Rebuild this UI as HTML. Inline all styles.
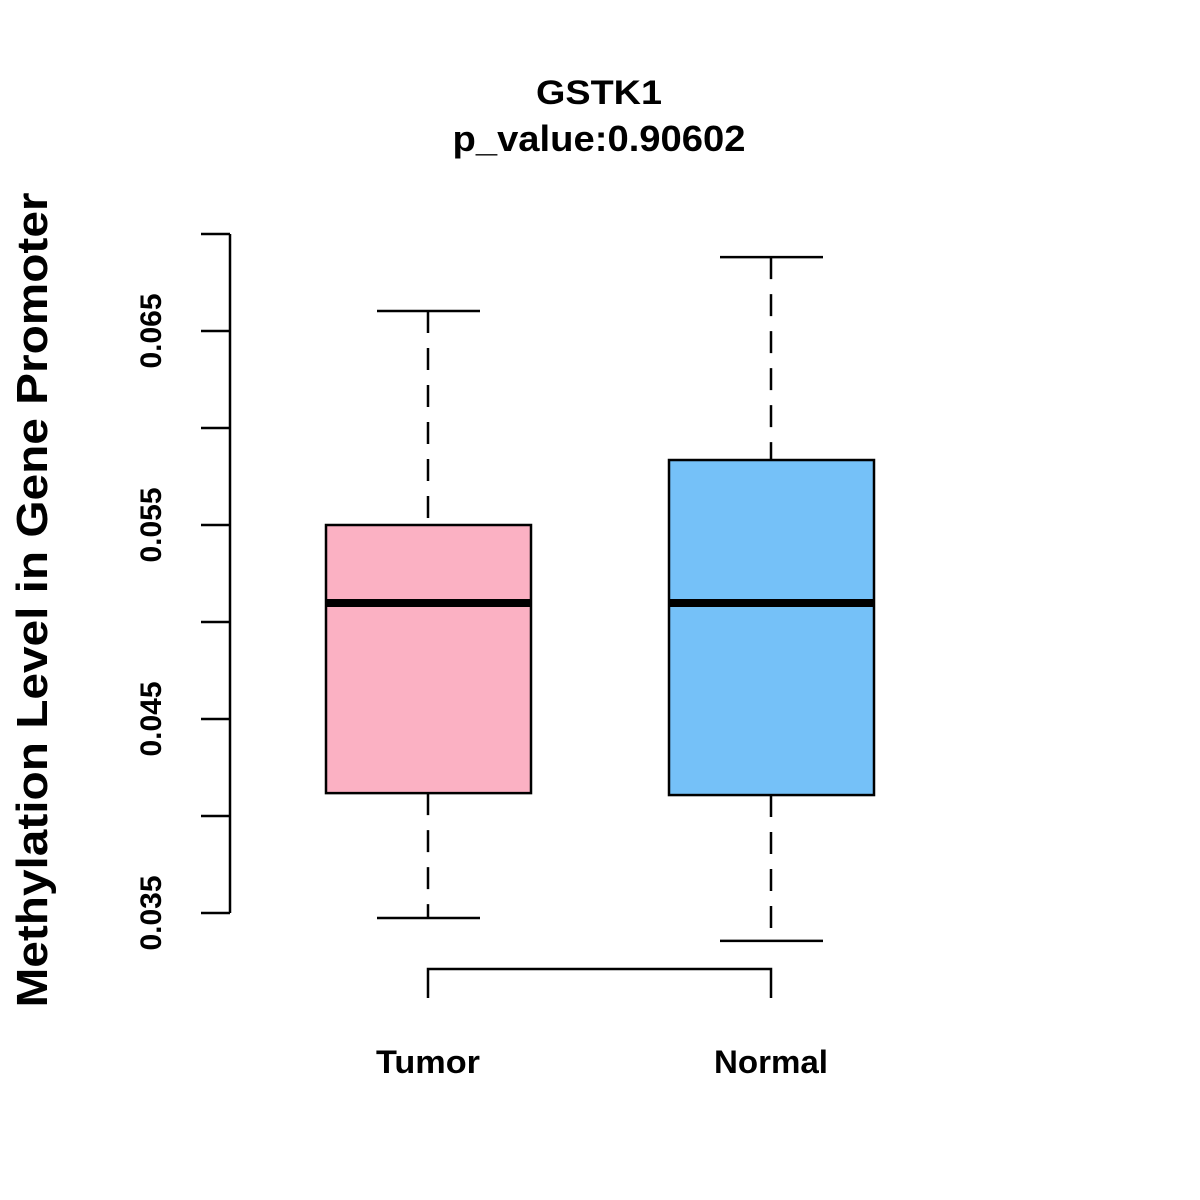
<!DOCTYPE html>
<html><head><meta charset="utf-8"><style>
html,body{margin:0;padding:0;background:#fff;}
svg{display:block;font-family:"Liberation Sans",Arial,sans-serif;}
</style></head><body>
<svg id="chart" width="1200" height="1200" viewBox="0 0 1200 1200">
<text x="599" y="104" text-anchor="middle" font-size="34" font-weight="bold" textLength="126" lengthAdjust="spacingAndGlyphs">GSTK1</text>
<text x="599" y="151" text-anchor="middle" font-size="36" font-weight="bold" textLength="293" lengthAdjust="spacingAndGlyphs">p_value:0.90602</text>
<text transform="translate(47,600) rotate(-90)" text-anchor="middle" font-size="44" font-weight="bold" textLength="815" lengthAdjust="spacingAndGlyphs">Methylation Level in Gene Promoter</text>
<g id="yaxis"></g>
<g id="boxes"></g>
</svg>
<script>
const categories = ["Tumor", "Normal"];
const whiskerHigh = [0.06603, 0.06881];
const q3Values = [0.0550, 0.05835];
const medians = [0.05098, 0.05098];
const q1Values = [0.04118, 0.04108];
const whiskerLow = [0.03474, 0.03356];
const fills = ["#FBB1C3", "#75C1F8"];
const tickValues = [0.035,0.040,0.045,0.050,0.055,0.060,0.065,0.070];
const tickLabels = ["0.035","","0.045","","0.055","","0.065",""];

const NS="http://www.w3.org/2000/svg";
const y = v => 913 - (v-0.035)*19400;
const xc = i => 428 + i*343;
function mk(tag, attrs, parent){const e=document.createElementNS(NS,tag);for(const k in attrs)e.setAttribute(k,attrs[k]);parent.appendChild(e);return e;}
const ya=document.getElementById('yaxis');
let al=mk('line',{x1:230,x2:230,y1:y(tickValues[0]),y2:y(tickValues[tickValues.length-1]),stroke:'#000','stroke-width':2.5},ya);


tickValues.forEach((v,i)=>{
  const t=mk('line',{x1:201,x2:230,y1:y(v),y2:y(v),stroke:'#000','stroke-width':2.5},ya);
  
  
  if(tickLabels[i]){
    const tx=mk('text',{transform:`translate(161,${y(v)}) rotate(-90)`,'text-anchor':'middle','font-size':30,'font-weight':'bold',textLength:75,lengthAdjust:'spacingAndGlyphs'},ya);
    tx.textContent=tickLabels[i];
    
    
  }
});
const labelLens=[104,114];
const bx=document.getElementById('boxes');
categories.forEach((c,i)=>{
  const x=xc(i);
  const g=mk('g',{},bx);
  
  
  mk('line',{x1:x,x2:x,y1:y(whiskerHigh[i]),y2:y(q3Values[i]),stroke:'#000','stroke-width':2.5,'stroke-dasharray':'22,15'},g);
  mk('line',{x1:x,x2:x,y1:y(q1Values[i]),y2:y(whiskerLow[i]),stroke:'#000','stroke-width':2.5,'stroke-dasharray':'22,15'},g);
  mk('line',{x1:x-51,x2:x+52,y1:y(whiskerHigh[i]),y2:y(whiskerHigh[i]),stroke:'#000','stroke-width':2.5},g);
  mk('line',{x1:x-51,x2:x+52,y1:y(whiskerLow[i]),y2:y(whiskerLow[i]),stroke:'#000','stroke-width':2.5},g);
  mk('rect',{x:x-102,y:y(q3Values[i]),width:205,height:y(q1Values[i])-y(q3Values[i]),fill:fills[i],stroke:'#000','stroke-width':2.5},g);
  mk('line',{x1:x-102,x2:x+103,y1:y(medians[i]),y2:y(medians[i]),stroke:'#000','stroke-width':8},g);
  const lb=mk('text',{x:x,y:1073,'text-anchor':'middle','font-size':32,'font-weight':'bold',textLength:labelLens[i],lengthAdjust:'spacingAndGlyphs'},bx);
  lb.textContent=c;
  
  
});
const br=mk('path',{d:`M${xc(0)},998 V969 H${xc(1)} V998`,fill:'none',stroke:'#000','stroke-width':2.5},bx);


</script>
</body></html>
